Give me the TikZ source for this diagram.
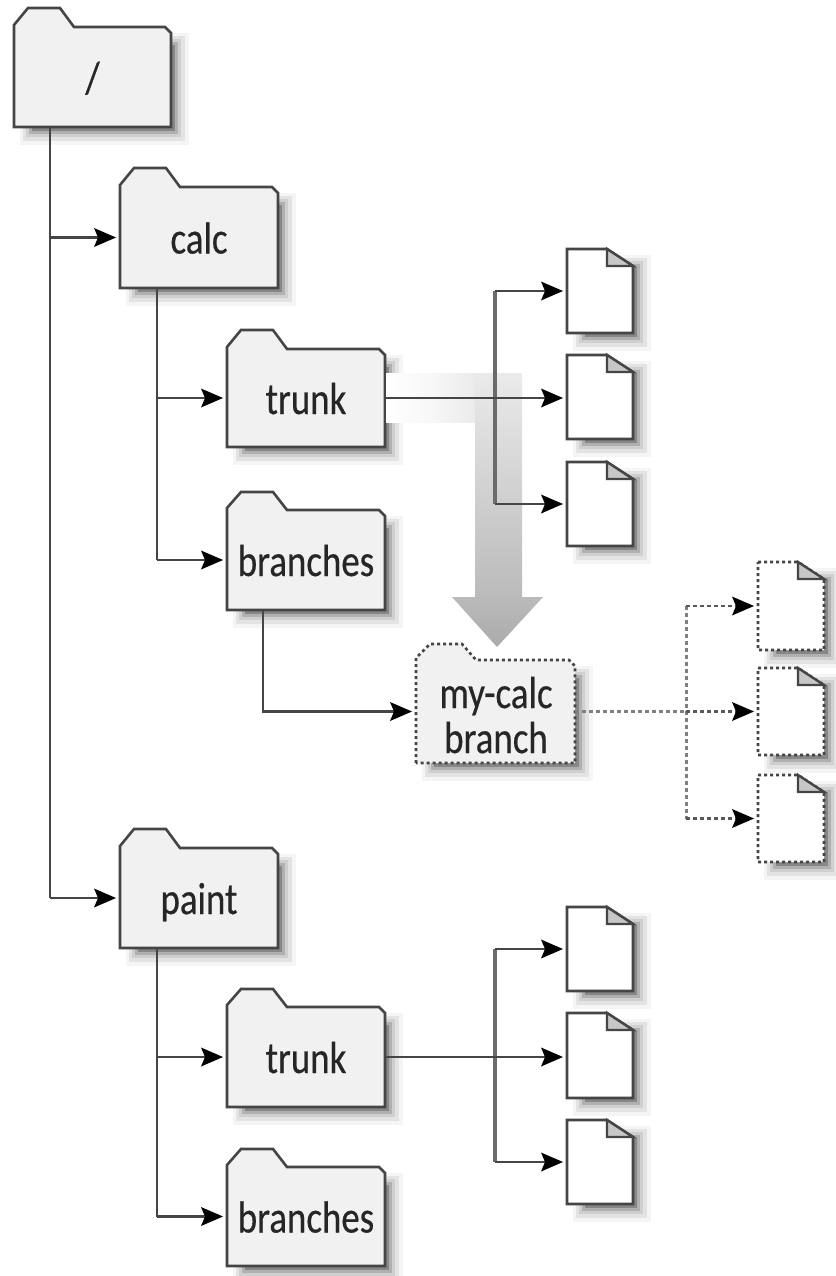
\documentclass[tikz,border=0pt]{standalone}
\usepackage{fontspec}
\usetikzlibrary{arrows.meta,calc}
\newfontfamily\lblfont[FakeStretch=0.82,FakeBold=0.4]{Carlito}
\definecolor{edge}{gray}{0.27}
\definecolor{fillf}{gray}{0.945}
\definecolor{foldc}{gray}{0.78}
\tikzset{
  x=1pt,y=-1pt,
  headtip/.tip={Stealth[length=22pt,width=19pt,inset=4pt,fill=black,color=black,line width=0pt]},
  outline/.style={draw=edge,line width=2.6pt,line join=miter},
  dashline/.style={dash pattern=on 3pt off 3pt},
  foldertext/.style={font=\lblfont\fontsize{45}{46}\selectfont,text=black!85,inner sep=0pt,outer sep=0pt,text height=34pt,text depth=2pt},
  conn/.style={draw=edge,line width=2.6pt,-headtip,shorten >=4pt},
  wire/.style={draw=edge,line width=2.6pt},
  spine/.style={draw=black!58,line width=4pt},
  dconn/.style={draw=black!65,line width=2.6pt,dash pattern=on 4pt off 3pt,-headtip,shorten >=4pt},
  dwire/.style={draw=black!50,line width=3pt,dash pattern=on 4pt off 3pt},
}
% shadow: L T R B
\newcommand{\softshade}[4]{%
  \foreach \e/\g/\t in {18/0.96/0,14/0.89/3,10/0.81/6,7/0.69/9,4/0.53/12}{%
    \fill[black!\fpeval{(1-\g)*100}] ({#1+6+\t},{#2+6+\t}) rectangle ({#3+\e},{#4+\e});
  }%
}
% folder: name L T Tb R B [extra style] text
\newcommand{\folderbox}[8]{%
  \softshade{#2}{#4}{#5}{#6}
  \path[fill=fillf,outline,#7] (#2,#6) -- (#2,{#4-2}) -- ({#2+14},#3) -- ({#2+46},#3) -- ({#2+60},#4) -- ({#5-6},#4) -- (#5,{#4+6}) -- (#5,#6) -- cycle;
  \node[foldertext,align=center,minimum width={#5-#2},minimum height={#6-#4}] (#1) at ({(#2+#5)/2},{(#4+#6)/2}) {#8};
}
% document: name L T R B [extra]
\newcommand{\docbox}[6]{%
  \softshade{#2}{#3}{#4}{#5}
  \path[fill=white,outline,#6] (#2,#3) -- ({#4-26},#3) -- (#4,{#3+17}) -- (#4,#5) -- (#2,#5) -- cycle;
  \path[fill=foldc,outline,line width=2.4pt] ({#4-26},#3) -- (#4,{#3+17}) -- ({#4-26},{#3+17}) -- cycle;
  \node[inner sep=0pt,outer sep=0pt,minimum width={#4-#2},minimum height={#5-#3}] (#1) at ({(#2+#4)/2},{(#3+#5)/2}) {};
}
\begin{document}
\begin{tikzpicture}
\useasboundingbox (0,0) rectangle (835,1276);
\fill[white] (0,0) rectangle (835,1276);

\folderbox{root}{14}{8}{27}{171}{127}{}{/}
\folderbox{calc}{120}{168}{187}{278}{288}{}{calc}
\folderbox{ctrunk}{227}{330}{349}{385}{447}{}{trunk}
\folderbox{cbranches}{227}{492}{510}{385}{610}{}{branches}
\folderbox{paint}{120}{829}{848}{278}{948}{}{paint}
\folderbox{ptrunk}{227}{989}{1007}{385}{1107}{}{trunk}
\folderbox{pbranches}{227}{1149}{1167}{385}{1266}{}{branches}

\docbox{ca}{567}{249}{633}{333}{}
\docbox{cb}{567}{355}{633}{439}{}
\docbox{cc}{567}{462}{633}{546}{}
\docbox{pa}{567}{907}{633}{991}{}
\docbox{pb}{567}{1013}{633}{1098}{}
\docbox{pc}{567}{1120}{633}{1204}{}
\docbox{da}{758}{562}{824}{650}{dashline}
\docbox{db}{758}{668}{824}{755}{dashline}
\docbox{dc}{758}{775}{824}{862}{dashline}

% big grey copy arrow
\shade[left color=white,right color=black!8,middle color=black!3] (386,373) rectangle (476,422);
\shade[top color=black!8,bottom color=black!27] (475,373) rectangle (522,597);
\shade[top color=black!27,bottom color=black!33] (452,597) -- (543,597) -- (497,647) -- cycle;

\folderbox{mycalc}{416}{644}{660}{575}{763}{dashline}{}
\node[foldertext,align=center] (mycalctext) at (496,737) {my-calc\\[-1pt]branch};

% junction x positions
\coordinate (jroot) at (50,0);
\coordinate (jcalc) at (157,0);
\coordinate (jpaint) at (157,0);
\coordinate (jbr) at (263,0);
\coordinate (jc) at (495,0);
\coordinate (jd) at (686,0);

% root
\draw[wire] (root.south -| jroot) -- (paint.west -| jroot);
\draw[conn] (calc.west -| jroot) -- (calc.west);
\draw[conn] (paint.west -| jroot) -- (paint.west);
% calc
\draw[wire] (calc.south -| jcalc) -- (cbranches.west -| jcalc);
\draw[conn] (ctrunk.west -| jcalc) -- (ctrunk.west);
\draw[conn] (cbranches.west -| jcalc) -- (cbranches.west);
% trunk files
\draw[spine] (ca.west -| jc) -- (cc.west -| jc);
\draw[conn] (ctrunk.east) -- (ctrunk.east -| cb.west);
\draw[conn] (ca.west -| jc) -- (ca.west);
\draw[conn] (cc.west -| jc) -- (cc.west);
% branches
\draw[conn] (cbranches.south -| jbr) -- (mycalc.west -| jbr) -- (mycalc.west);
% my-calc files
\draw[dwire] (da.west -| jd) -- (dc.west -| jd);
\draw[dwire] (mycalc.east) -- (mycalc.east -| jd);
\draw[dconn] (mycalc.east -| jd) -- (mycalc.east -| db.west);
\draw[dconn] (da.west -| jd) -- (da.west);
\draw[dconn] (dc.west -| jd) -- (dc.west);
% paint
\draw[wire] (paint.south -| jpaint) -- (pbranches.west -| jpaint);
\draw[conn] (ptrunk.west -| jpaint) -- (ptrunk.west);
\draw[conn] (pbranches.west -| jpaint) -- (pbranches.west);
\draw[spine] (pa.west -| jc) -- (pc.west -| jc);
\draw[conn] (ptrunk.east) -- (ptrunk.east -| pb.west);
\draw[conn] (pa.west -| jc) -- (pa.west);
\draw[conn] (pc.west -| jc) -- (pc.west);
\end{tikzpicture}
\end{document}
